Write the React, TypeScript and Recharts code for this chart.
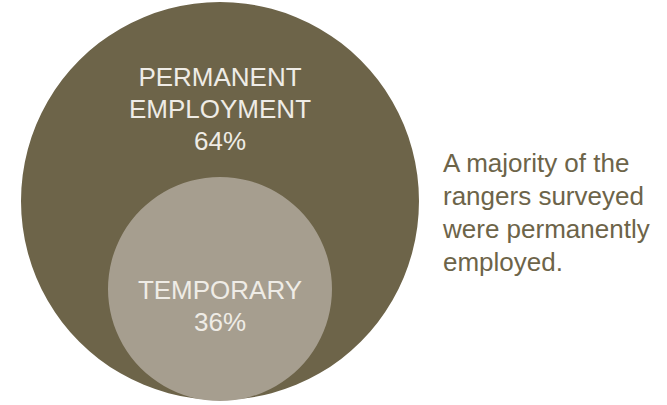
import { PieChart, Pie, Cell } from 'recharts';

const categories = ['PERMANENT EMPLOYMENT', 'TEMPORARY'];
const shares = [64, 36];
const labelLines = [['PERMANENT', 'EMPLOYMENT'], ['TEMPORARY']];
const noteLines = ['A majority of the', 'rangers surveyed', 'were permanently', 'employed.'];

const COLORS = ['#6d6449', '#a69e8f'];
const FONT = '"Liberation Sans", Arial, sans-serif';

const makeLabel = (idx: number, firstOffset: number) => (props: any) => {
  const lines = [...labelLines[idx], `${shares[idx]}%`];
  return (
    <g>
      {lines.map((line, i) => (
        <text
          key={line}
          x={props.cx}
          y={props.cy + firstOffset + i * 32}
          textAnchor="middle"
          dominantBaseline="central"
          fill="#efece6"
          fontSize={26}
          fontFamily={FONT}
        >
          {line}
        </text>
      ))}
    </g>
  );
};

export default function App() {
  const outer = [{ name: categories[0], value: shares[0] }];
  const inner = [{ name: categories[1], value: shares[1] }];

  return (
    <div style={{ position: 'fixed', left: 0, top: 0, width: 667, height: 405, background: '#fff' }}>
      <PieChart width={667} height={405} margin={{ top: 0, right: 0, bottom: 0, left: 0 }}>
        <Pie
          data={outer}
          dataKey="value"
          cx={220}
          cy={201}
          outerRadius={199}
          startAngle={90}
          endAngle={-270}
          stroke="none"
          labelLine={false}
          label={makeLabel(0, -124)}
          isAnimationActive={false}
        >
          <Cell fill={COLORS[0]} />
        </Pie>
        <Pie
          data={inner}
          dataKey="value"
          cx={220}
          cy={289}
          outerRadius={112}
          startAngle={90}
          endAngle={-270}
          stroke="none"
          labelLine={false}
          label={makeLabel(1, 1)}
          isAnimationActive={false}
        >
          <Cell fill={COLORS[1]} />
        </Pie>
      </PieChart>
      <div
        style={{
          position: 'absolute',
          left: 443,
          top: 147,
          fontFamily: FONT,
          fontSize: 26,
          lineHeight: '33px',
          color: '#6d6449',
          whiteSpace: 'nowrap',
        }}
      >
        {noteLines.map((l) => (
          <div key={l}>{l}</div>
        ))}
      </div>
    </div>
  );
}
